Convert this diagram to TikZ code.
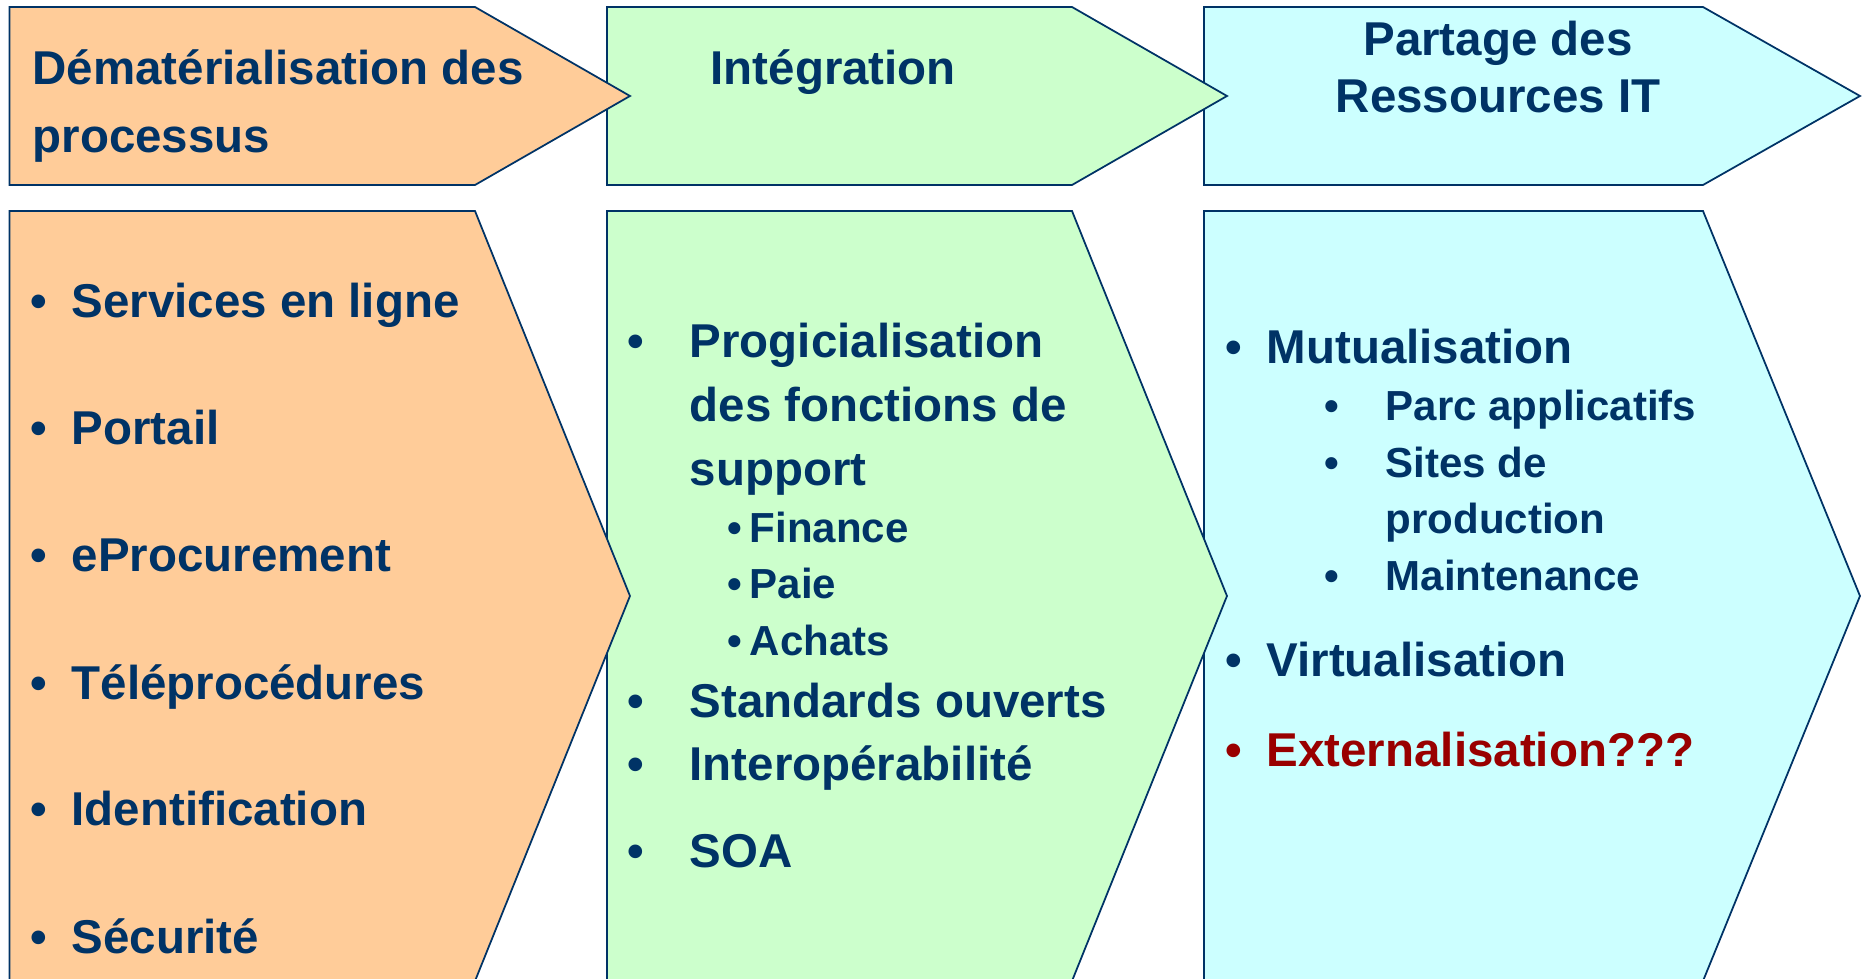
\documentclass[tikz,border=0pt]{standalone}
\usepackage{fontspec}
\setmainfont{Liberation Sans}

\definecolor{navy}{HTML}{003366}
\definecolor{peach}{HTML}{FFCC99}
\definecolor{mint}{HTML}{CCFFCC}
\definecolor{aqua}{HTML}{CCFFFF}
\definecolor{alert}{HTML}{990000}

\tikzset{
		chev/.style={draw=navy, line width=0.5pt, line join=miter},
		big/.style={anchor=base west, inner sep=0pt, text=navy, font=\bfseries\fontsize{13.5}{16}\selectfont},
		small/.style={big, font=\bfseries\fontsize{11.95}{14}\selectfont},
		dot/.style={big, anchor=base},
		sdot/.style={small, anchor=base}
	}

\begin{document}
\begin{tikzpicture}[x=0.01cm, y=-0.01cm]
\useasboundingbox (0,0) rectangle (1862,979);

% chevrons, right to left so each tip lies over the next box
\draw [chev, fill=aqua]  (1204,211) -- (1703,211) -- (1860,596) -- (1703,981) -- (1204,981) -- cycle;
\draw [chev, fill=mint]  (607,211) -- (1072,211) -- (1227,596) -- (1072,981) -- (607,981) -- cycle;
\draw [chev, fill=peach] (9.5,211) -- (475,211) -- (630,596) -- (475,981) -- (9.5,981) -- cycle;

\draw [chev, fill=aqua]  (1204,7) -- (1703,7) -- (1860,96) -- (1703,185) -- (1204,185) -- cycle;
\draw [chev, fill=mint]  (607,7) -- (1072,7) -- (1227,96) -- (1072,185) -- (607,185) -- cycle;
\draw [chev, fill=peach] (9.5,7) -- (475,7) -- (630,96) -- (475,185) -- (9.5,185) -- cycle;

% titles
\node (t1a) at (32,85) [big] {Dématérialisation des};
\node (t1b) at (32,153) [big] {processus};
\node (t2) at (710,85) [big] {Intégration};
\node (t3a) at (1498,56) [big, anchor=base] {Partage des};
\node (t3b) at (1498,113) [big, anchor=base] {Ressources IT};

% first column
\node (d11) at (39,318) [dot] {•};
\node (serv) at (71,318) [big] {Services en ligne};
\node (d12) at (39,445) [dot] {•};
\node (port) at (71,445) [big] {Portail};
\node (d13) at (39,572) [dot] {•};
\node (eproc) at (71,572) [big] {eProcurement};
\node (d14) at (39,699) [dot] {•};
\node (telep) at (71,699) [big] {Téléprocédures};
\node (d15) at (39,826) [dot] {•};
\node (ident) at (71,826) [big] {Identification};
\node (d16) at (39,953) [dot] {•};
\node (secu) at (71,953) [big] {Sécurité};

% second column
\node (d21) at (636,358) [dot] {•};
\node (prog) at (689,358) [big] {Progicialisation};
\node (prog2) at (689,422) [big] {des fonctions de};
\node (prog3) at (689,486) [big] {support};
\node (s21) at (735,543) [sdot] {•};
\node (fin) at (749,543) [small] {Finance};
\node (s22) at (735,599) [sdot] {•};
\node (paie) at (749,599) [small] {Paie};
\node (s23) at (735,656) [sdot] {•};
\node (ach) at (749,656) [small] {Achats};
\node (d22) at (636,718) [dot] {•};
\node (std) at (689,718) [big] {Standards ouverts};
\node (d23) at (636,781) [dot] {•};
\node (inter) at (689,781) [big] {Interopérabilité};
\node (d24) at (636,867) [dot] {•};
\node (soa) at (689,867) [big] {SOA};

% third column
\node (d31) at (1234,364) [dot] {•};
\node (mutu) at (1266,364) [big] {Mutualisation};
\node (s31) at (1332,421) [sdot] {•};
\node (parc) at (1385,421) [small] {Parc applicatifs};
\node (s32) at (1332,478) [sdot] {•};
\node (sites) at (1385,478) [small] {Sites de};
\node (prod) at (1385,534) [small] {production};
\node (s33) at (1332,591) [sdot] {•};
\node (maint) at (1385,591) [small] {Maintenance};
\node (d32) at (1234,677) [dot] {•};
\node (virt) at (1266,677) [big] {Virtualisation};
\node (d33) at (1234,767) [dot, text=alert] {•};
\node (ext) at (1266,767) [big, text=alert] {Externalisation???};

\end{tikzpicture}
\end{document}
